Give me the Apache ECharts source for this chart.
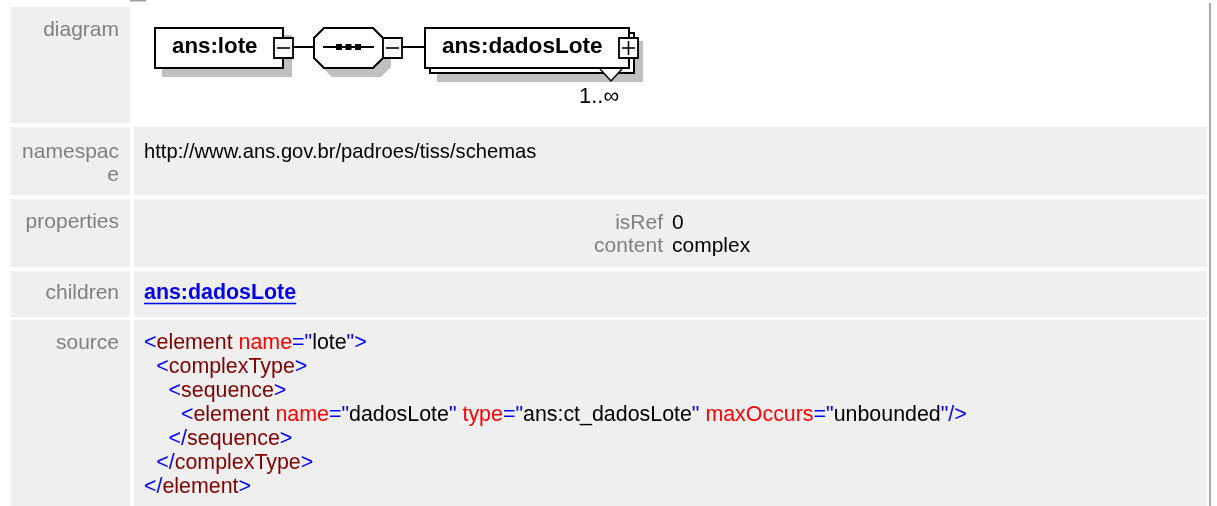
<!DOCTYPE html>
<html><head><meta charset="utf-8">
<script src="https://cdn.jsdelivr.net/npm/echarts@6/dist/echarts.min.js"></script>
<style>html,body{margin:0;padding:0;background:#fff}#c{width:1217px;height:506px}</style>
</head><body><div id="c"></div>
<script>
// ---------- content ----------
const rowLabels = [['diagram'], ['namespac', 'e'], ['properties'], ['children'], ['source']];
const namespaceValue = 'http://www.ans.gov.br/padroes/tiss/schemas';
const propertyNames = ['isRef', 'content'];
const propertyValues = ['0', 'complex'];
const childLinks = ['ans:dadosLote'];
const diagramElements = ['ans:lote', 'ans:dadosLote'];
const diagramMultiplicity = '1..\u221e';
const sourceIndent = [0, 1, 2, 3, 2, 1, 0];
const sourceTokens = [
  [['b', '<'], ['m', 'element'], ['r', ' name'], ['b', '="'], ['k', 'lote'], ['b', '">']],
  [['b', '<'], ['m', 'complexType'], ['b', '>']],
  [['b', '<'], ['m', 'sequence'], ['b', '>']],
  [['b', '<'], ['m', 'element'], ['r', ' name'], ['b', '="'], ['k', 'dadosLote'], ['b', '"'],
   ['r', ' type'], ['b', '="'], ['k', 'ans:ct_dadosLote'], ['b', '"'],
   ['r', ' maxOccurs'], ['b', '="'], ['k', 'unbounded'], ['b', '"/>']],
  [['b', '</'], ['m', 'sequence'], ['b', '>']],
  [['b', '</'], ['m', 'complexType'], ['b', '>']],
  [['b', '</'], ['m', 'element'], ['b', '>']]
];

// ---------- styling / layout ----------
const FONT = '"Liberation Sans", Arial, Helvetica, sans-serif';
const tokenColors = { b: '#0000ff', m: '#800000', r: '#ff0000', k: '#000000' };
const L = {
  rows: [[7, 123], [127, 195], [199, 267], [271, 317], [320, 506]],
  labelX0: 11, labelX1: 130, valueX0: 134, valueX1: 1207,
  labelRight: 119, labelY: [30, 152, 222, 293, 343], labelLineGap: 23,
  valueX: 144, fontSize: 21, nsSize: 20.2, srcSize: 21.4, linkSize: 21.4,
  propSplit: 667, propY: [223, 246],
  srcLineH: 24.1, srcIndent: 12.3,
  cellBg: '#efefef', labelColor: '#808080', linkColor: '#0000ee'
};

const canvas = document.createElement('canvas');
const ctx = canvas.getContext('2d');
function textW(t, size, weight) {
  ctx.font = (weight || 'normal') + ' ' + size + 'px ' + FONT;
  return ctx.measureText(t).width;
}
function txt(x, y, text, o) {
  o = o || {};
  return {
    type: 'text', x: x, y: y, silent: true, z: o.z || 10,
    style: {
      text: text, fill: o.fill || '#000', fontSize: o.size || L.fontSize,
      fontFamily: FONT, fontWeight: o.weight || 'normal',
      textAlign: o.align || 'left', textVerticalAlign: 'middle'
    }
  };
}

const g = [];
// table cells
L.rows.forEach((r, i) => {
  g.push({ type: 'rect', silent: true, z: 1, shape: { x: L.labelX0, y: r[0], width: L.labelX1 - L.labelX0, height: r[1] - r[0] }, style: { fill: L.cellBg } });
  if (i > 0) g.push({ type: 'rect', silent: true, z: 1, shape: { x: L.valueX0, y: r[0], width: L.valueX1 - L.valueX0, height: r[1] - r[0] }, style: { fill: L.cellBg } });
});
// labels
rowLabels.forEach((lines, i) => {
  lines.forEach((t, j) => g.push(txt(L.labelRight, L.labelY[i] + j * L.labelLineGap, t, { align: 'right', fill: L.labelColor })));
});
// namespace
g.push(txt(L.valueX, L.labelY[1], namespaceValue, { size: L.nsSize }));
// properties
propertyNames.forEach((n, i) => {
  g.push(txt(L.propSplit - 4, L.propY[i], n, { align: 'right', fill: L.labelColor }));
  g.push(txt(L.propSplit + 5, L.propY[i], propertyValues[i]));
});
// children link
childLinks.forEach((c) => {
  const w = textW(c, L.linkSize, 'bold');
  g.push(txt(L.valueX, L.labelY[3], c, { weight: 'bold', fill: L.linkColor, size: L.linkSize }));
  g.push({ type: 'line', silent: true, z: 10, shape: { x1: L.valueX, y1: L.labelY[3] + 10.5, x2: L.valueX + w, y2: L.labelY[3] + 10.5 }, style: { stroke: L.linkColor, lineWidth: 1.6 } });
});
// source
sourceTokens.forEach((line, i) => {
  let x = L.valueX + sourceIndent[i] * L.srcIndent;
  const y = L.labelY[4] + i * L.srcLineH;
  line.forEach(([c, t]) => {
    g.push(txt(x, y, t, { fill: tokenColors[c], size: L.srcSize }));
    x += textW(t, L.srcSize);
  });
});

// ---------- diagram ----------
const SH = '#c0c0c0';
const cy = 47;
function box(x0, y0, x1, y1, z) {
  return { type: 'rect', silent: true, z: z, shape: { x: x0 + 1, y: y0 + 1, width: x1 - x0 - 2, height: y1 - y0 - 2 }, style: { fill: '#fff', stroke: '#000', lineWidth: 2 } };
}
function fillRect(x0, y0, x1, y1, z, c) {
  return { type: 'rect', silent: true, z: z, shape: { x: x0, y: y0, width: x1 - x0, height: y1 - y0 }, style: { fill: c } };
}
function seg(x1, y1, x2, y2, z, w) {
  return { type: 'line', silent: true, z: z, shape: { x1: x1, y1: y1, x2: x2, y2: y2 }, style: { stroke: '#000', lineWidth: w || 2 } };
}
function smallBox(x0, y0, plus, z) {
  const arr = [{ type: 'rect', silent: true, z: z, shape: { x: x0 + 1, y: y0 + 1, width: 19, height: 20 }, style: { fill: '#fff', stroke: '#000', lineWidth: 1.8 } }];
  arr.push(seg(x0 + 4, y0 + 11, x0 + 17, y0 + 11, z + 1, 1.6));
  if (plus) arr.push(seg(x0 + 10.5, y0 + 4, x0 + 10.5, y0 + 18, z + 1, 1.6));
  return arr;
}
// element ans:lote
g.push(fillRect(162, 35, 292, 77, 20, SH));
g.push(box(154, 27, 284, 69, 21));
g.push(txt(172, cy, diagramElements[0], { weight: 'bold', size: 22.3, z: 22 }));
g.push(...smallBox(273, 37, false, 23));
g.push(seg(293, cy, 314, cy, 21));
// sequence octagon
function oct(x0, y0, x1, y1, c) {
  return [[x0 + c, y0], [x1 - c, y0], [x1, y0 + c], [x1, y1 - c], [x1 - c, y1], [x0 + c, y1], [x0, y1 - c], [x0, y0 + c]];
}
g.push({ type: 'polygon', silent: true, z: 20, shape: { points: oct(322, 36, 391, 77, 10) }, style: { fill: SH } });
g.push({ type: 'polygon', silent: true, z: 21, shape: { points: oct(314, 28, 383, 68, 10) }, style: { fill: '#fff', stroke: '#000', lineWidth: 2 } });
g.push(seg(323, cy, 374, cy, 22));
[339, 348.5, 358].forEach((x) => g.push({ type: 'rect', silent: true, z: 23, shape: { x: x - 3, y: cy - 3, width: 6, height: 6 }, style: { fill: '#000' } }));
g.push(...smallBox(382, 37, false, 23));
g.push(seg(402, cy, 425, cy, 21));
// element ans:dadosLote (multiple)
g.push(fillRect(437, 41, 643, 82, 20, SH));
g.push(box(429, 32, 635, 74, 21));
g.push({ type: 'polygon', silent: true, z: 22, shape: { points: [[600, 69], [622, 69], [611, 81]] }, style: { fill: '#fff' } });
g.push({ type: 'polyline', silent: true, z: 22, shape: { points: [[600, 69], [611, 81], [622, 69]] }, style: { stroke: '#000', lineWidth: 1.5, fill: null } });
g.push(box(424, 27, 630, 69, 24));
g.push(txt(442, cy, diagramElements[1], { weight: 'bold', size: 22.6, z: 25 }));
g.push(...smallBox(618, 37, true, 26));
g.push(txt(579, 97, diagramMultiplicity, { size: 22, z: 25 }));

// page decorations (scrollbar edge / top fragment)
g.push(fillRect(1209, 3, 1211, 506, 5, '#a8a8a8'));
g.push(fillRect(130, 0, 146, 1.5, 5, '#a0a0a0'));

const chart = echarts.init(document.getElementById('c'), null, { renderer: 'canvas' });
chart.setOption({ backgroundColor: '#ffffff', animation: false, graphic: { elements: g } });
</script></body></html>
